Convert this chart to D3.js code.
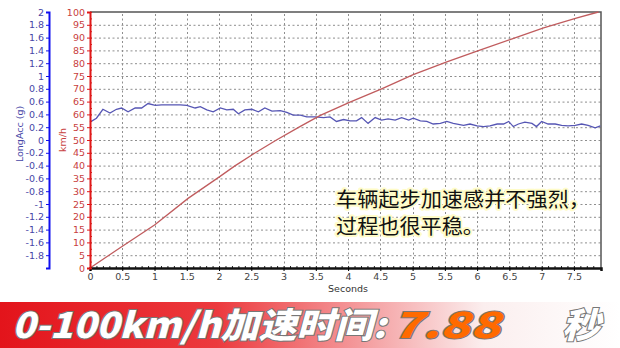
<!DOCTYPE html>
<html lang="zh">
<head>
<meta charset="UTF-8">
<title>0-100km/h 加速</title>
<script src="https://d3js.org/d3.v7.min.js"></script>
<style>
  body { margin: 0; background: #fff; }
  svg { display: block; }
  .tick text { font-family: "DejaVu Sans", Verdana, sans-serif; font-size: 9.5px; }
</style>
</head>
<body>
<script>
// speed curve (s, km/h)
const speedTime = [0, 0.3, 0.49, 1.0, 1.52, 2.01, 2.24, 2.55, 2.89, 3.26, 3.57, 4.03, 4.52, 5.01, 5.53, 6.02, 6.51, 7.03, 7.55, 7.88];
const speedKmh  = [0, 5.1, 8.3, 16.8, 27.2, 35.7, 39.8, 44.8, 50, 55.3, 59.6, 64.8, 70.0, 75.5, 80.5, 84.9, 89.2, 93.8, 97.7, 100];

// longitudinal acceleration (s, g)
const accTime = [0, 0.10, 0.20, 0.31, 0.41, 0.49, 0.59, 0.70, 0.80, 0.90, 1.01, 1.11, 1.40, 1.50, 1.63, 1.71, 1.81, 1.91,
  2.02, 2.12, 2.22, 2.30, 2.40, 2.51, 2.61, 2.71, 2.82, 2.95, 3.05, 3.15, 3.26, 3.36, 3.49, 3.62, 3.72, 3.82, 3.93,
  4.03, 4.13, 4.21, 4.31, 4.42, 4.52, 4.62, 4.73, 4.83, 4.94, 5.01, 5.12, 5.22, 5.32, 5.43, 5.53, 5.63, 5.79, 5.89,
  6.00, 6.10, 6.20, 6.31, 6.41, 6.49, 6.56, 6.64, 6.74, 6.85, 6.92, 7.00, 7.10, 7.21, 7.31, 7.41, 7.52, 7.62, 7.72, 7.83, 7.91];
const accG = [0.28, 0.34, 0.48, 0.42, 0.48, 0.50, 0.44, 0.50, 0.50, 0.57, 0.54, 0.55, 0.55, 0.54, 0.50, 0.52, 0.47, 0.44,
  0.50, 0.47, 0.48, 0.41, 0.47, 0.48, 0.44, 0.50, 0.45, 0.46, 0.43, 0.39, 0.39, 0.36, 0.36, 0.35, 0.36, 0.29, 0.32,
  0.30, 0.30, 0.35, 0.26, 0.35, 0.31, 0.33, 0.31, 0.35, 0.31, 0.34, 0.30, 0.29, 0.25, 0.26, 0.29, 0.26, 0.23, 0.25,
  0.22, 0.21, 0.22, 0.25, 0.25, 0.29, 0.21, 0.25, 0.28, 0.26, 0.21, 0.29, 0.25, 0.25, 0.23, 0.22, 0.23, 0.25, 0.23, 0.19, 0.22];

const timeTicks = [0, 0.5, 1, 1.5, 2, 2.5, 3, 3.5, 4, 4.5, 5, 5.5, 6, 6.5, 7, 7.5];
const speedTicks = d3.range(0, 101, 5);
const accTicks = d3.range(-9, 11).map(i => +(i * 0.2).toFixed(1));

const noteLines = ["车辆起步加速感并不强烈，", "过程也很平稳。"];
const bannerLabel = "0-100km/h加速时间:";
const bannerValue = "7.88";
const bannerUnit = "秒";

const W = 620, H = 348;
const svg = d3.select("body").append("svg").attr("width", W).attr("height", H);

const x = d3.scaleLinear().domain([0, 7.92]).range([90, 601]);
const yS = d3.scaleLinear().domain([0, 100]).range([268, 12]);
const yA = d3.scaleLinear().domain([-2, 2]).range([268, 12]);

// grid
const grid = svg.append("g").attr("stroke", "#8e8e8e").attr("stroke-dasharray", "2,2.5").attr("stroke-width", 1);
grid.selectAll(".h").data(speedTicks.slice(1, -1)).enter().append("line")
  .attr("x1", x(0)).attr("x2", x(7.92)).attr("y1", d => yS(d) + 0.5).attr("y2", d => yS(d) + 0.5);
grid.selectAll(".v").data(timeTicks.slice(1)).enter().append("line")
  .attr("y1", yS(0)).attr("y2", yS(100)).attr("x1", d => Math.round(x(d)) + 0.5).attr("x2", d => Math.round(x(d)) + 0.5);

// frame top/right
svg.append("path").attr("d", `M${x(0)},${yS(100)}H${x(7.92)}V${yS(0)}`)
  .attr("fill", "none").attr("stroke", "#555").attr("stroke-width", 1.5);

// lines
const accLine = d3.line().x((d, i) => x(accTime[i])).y(d => yA(d));
svg.append("path").attr("d", accLine(accG)).attr("fill", "none").attr("stroke", "#5656b4").attr("stroke-width", 1.3);
const spdLine = d3.line().x((d, i) => x(speedTime[i])).y(d => yS(d));
svg.append("path").attr("d", spdLine(speedKmh)).attr("fill", "none").attr("stroke", "#c05c5e").attr("stroke-width", 1.3);

// x axis
const xMinor = svg.append("g").attr("transform", `translate(0,${yS(0)})`)
  .call(d3.axisTop(x).tickValues(d3.range(0, 79).map(i => i / 10)).tickSize(2).tickFormat(""));
xMinor.select(".domain").remove();
xMinor.selectAll("line").attr("stroke", "#222");
const xAx = svg.append("g").attr("transform", `translate(0,${yS(0)})`)
  .call(d3.axisBottom(x).tickValues(timeTicks).tickSize(3).tickPadding(2).tickFormat(d3.format("~g")));
xAx.select(".domain").attr("stroke", "#111").attr("stroke-width", 2.5);
xAx.selectAll("text").attr("fill", "#444");
svg.append("text").attr("x", 348).attr("y", 292).attr("text-anchor", "middle")
  .attr("font-family", "DejaVu Sans, Verdana, sans-serif").attr("font-size", 9.5).attr("fill", "#333").text("Seconds");

// speed axis
const sMinor = svg.append("g").attr("transform", `translate(${x(0)},0)`)
  .call(d3.axisRight(yS).tickValues(d3.range(0, 101, 2.5)).tickSize(2).tickFormat(""));
sMinor.select(".domain").remove();
sMinor.selectAll("line").attr("stroke", "#d02020");
const sAx = svg.append("g").attr("transform", `translate(${x(0)},0)`)
  .call(d3.axisLeft(yS).tickValues(speedTicks).tickSize(3).tickPadding(2));
sAx.select(".domain").attr("stroke", "#e01818").attr("stroke-width", 2);
sAx.selectAll("line").attr("stroke", "#e01818");
sAx.selectAll("text").attr("fill", "#c84040");
svg.append("text").attr("transform", "translate(66,140) rotate(-90)").attr("text-anchor", "middle")
  .attr("font-family", "DejaVu Sans, Verdana, sans-serif").attr("font-size", 9.5).attr("fill", "#c84040").text("km/h");

// acc axis
const aAx = svg.append("g").attr("transform", "translate(49,0)")
  .call(d3.axisLeft(yA).tickValues(accTicks).tickSize(3).tickPadding(2).tickFormat(d => String(d)));
aAx.select(".domain").attr("stroke", "#1010f0").attr("stroke-width", 2);
aAx.selectAll("line").attr("stroke", "#1010f0");
aAx.selectAll("text").attr("fill", "#4646a6");
svg.append("text").attr("transform", "translate(23,134) rotate(-90)").attr("text-anchor", "middle")
  .attr("font-family", "DejaVu Sans, Verdana, sans-serif").attr("font-size", 9.5).attr("fill", "#4646a6").text("LongAcc (g)");

// note
svg.append("g").selectAll("text").data(noteLines).enter().append("text")
  .attr("x", 336).attr("y", (d, i) => 207 + i * 27)
  .attr("font-family", "Noto Sans CJK SC, sans-serif").attr("font-size", 20)
  .attr("textLength", (d, i) => i === 0 ? 254 : 148).attr("lengthAdjust", "spacingAndGlyphs")
  .attr("fill", "#111").attr("stroke", "#fffcc8").attr("stroke-width", 4).attr("stroke-linejoin", "round")
  .attr("paint-order", "stroke").text(d => d);

// banner
const defs = svg.append("defs");
const grad = defs.append("linearGradient").attr("id", "bn").attr("x1", "0").attr("x2", "1");
grad.append("stop").attr("offset", "0").attr("stop-color", "#e3141b");
grad.append("stop").attr("offset", "0.35").attr("stop-color", "#ec3a3e");
grad.append("stop").attr("offset", "0.78").attr("stop-color", "#fbeeee");
grad.append("stop").attr("offset", "1").attr("stop-color", "#ffffff");
svg.append("rect").attr("x", 0).attr("y", 302).attr("width", W).attr("height", 46).attr("fill", "url(#bn)");

const bText = (txt, x0, len, fill) => svg.append("text").attr("x", x0).attr("y", 338)
  .attr("font-family", "Noto Sans CJK SC, sans-serif").attr("font-weight", 900).attr("font-style", "italic")
  .attr("font-size", 35).attr("textLength", len).attr("lengthAdjust", "spacingAndGlyphs")
  .attr("fill", fill).attr("stroke", "#777").attr("stroke-width", 2).attr("paint-order", "stroke").text(txt);
bText(bannerLabel, 12, 374, "#fff");
bText(bannerValue, 392, 108, "#ff6a00");
bText(bannerUnit, 562, 38, "#fff");
</script>
</body>
</html>
